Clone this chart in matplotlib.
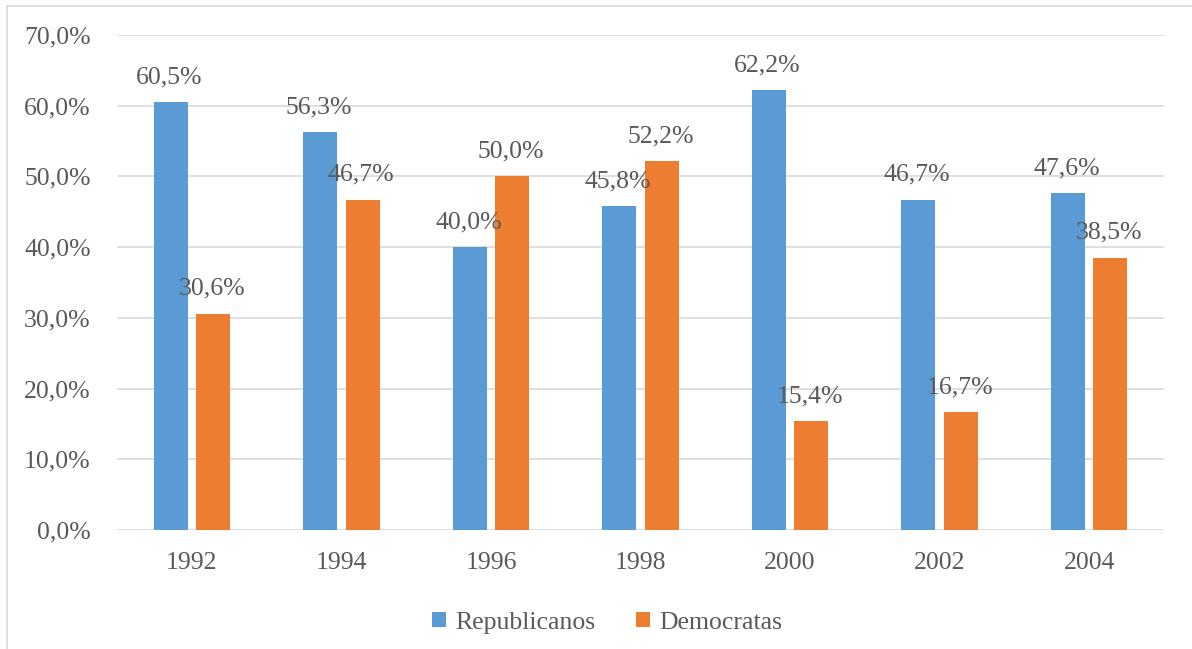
import matplotlib.pyplot as plt
from matplotlib.lines import Line2D
from matplotlib.ticker import FuncFormatter
import numpy as np

anos = ["1992", "1994", "1996", "1998", "2000", "2002", "2004"]
republicanos = [60.5, 56.3, 40.0, 45.8, 62.2, 46.7, 47.6]
democratas = [30.6, 46.7, 50.0, 52.2, 15.4, 16.7, 38.5]

azul = "#5B9BD5"
laranja = "#ED7D31"
cinza = "#595959"
fs = 18.5

plt.rcParams["font.family"] = ["Liberation Serif", "DejaVu Serif"]

fig = plt.figure(figsize=(11.92, 6.49), dpi=100)
ax = fig.add_axes([0.0982, 0.1834, 0.8783, 0.7627])

x = np.arange(len(anos))
w = 0.227
b1 = ax.bar(x - 0.142, republicanos, w, color=azul, label="Republicanos", zorder=2)
b2 = ax.bar(x + 0.142, democratas, w, color=laranja, label="Democratas", zorder=2)

# rótulos de dados acima de cada barra
for barras, vals in ((b1, republicanos), (b2, democratas)):
    for r, v in zip(barras, vals):
        ax.annotate(f"{v:.1f}%".replace(".", ","),
                    (r.get_x() + r.get_width() / 2, v),
                    xytext=(-1, 10), textcoords="offset points",
                    ha="center", va="bottom", fontsize=fs, color=cinza, zorder=3)

ax.set_xlim(-0.5, len(anos) - 0.5)
ax.set_ylim(0, 70)
ax.set_yticks(np.arange(0, 71, 10))
ax.yaxis.set_major_formatter(FuncFormatter(lambda v, p: f"{v:.1f}%".replace(".", ",")))
ax.set_xticks(x)
ax.set_xticklabels(anos)
ax.tick_params(axis="both", length=0, labelsize=fs, labelcolor=cinza)
ax.tick_params(axis="y", pad=19)
ax.tick_params(axis="x", pad=16)

ax.grid(axis="y", color="#D9D9D9", linewidth=1.2, zorder=0)
ax.set_axisbelow(True)
for s in ax.spines.values():
    s.set_visible(False)

ax.legend(loc="upper center", bbox_to_anchor=(0.468, -0.118), ncol=2, frameon=False,
          fontsize=fs, labelcolor=cinza, handlelength=0.55, handleheight=0.55,
          handletextpad=0.35, columnspacing=1.6)

# moldura do gráfico (bordas superior e esquerda)
fx = 7 / 1192
fy = 1 - 6 / 649
fig.add_artist(Line2D([fx, 1], [fy, fy], color="#D9D9D9", linewidth=1.2, transform=fig.transFigure))
fig.add_artist(Line2D([fx, fx], [0, fy], color="#D9D9D9", linewidth=1.2, transform=fig.transFigure))

fig.savefig("out.png", dpi=100, facecolor="white")
